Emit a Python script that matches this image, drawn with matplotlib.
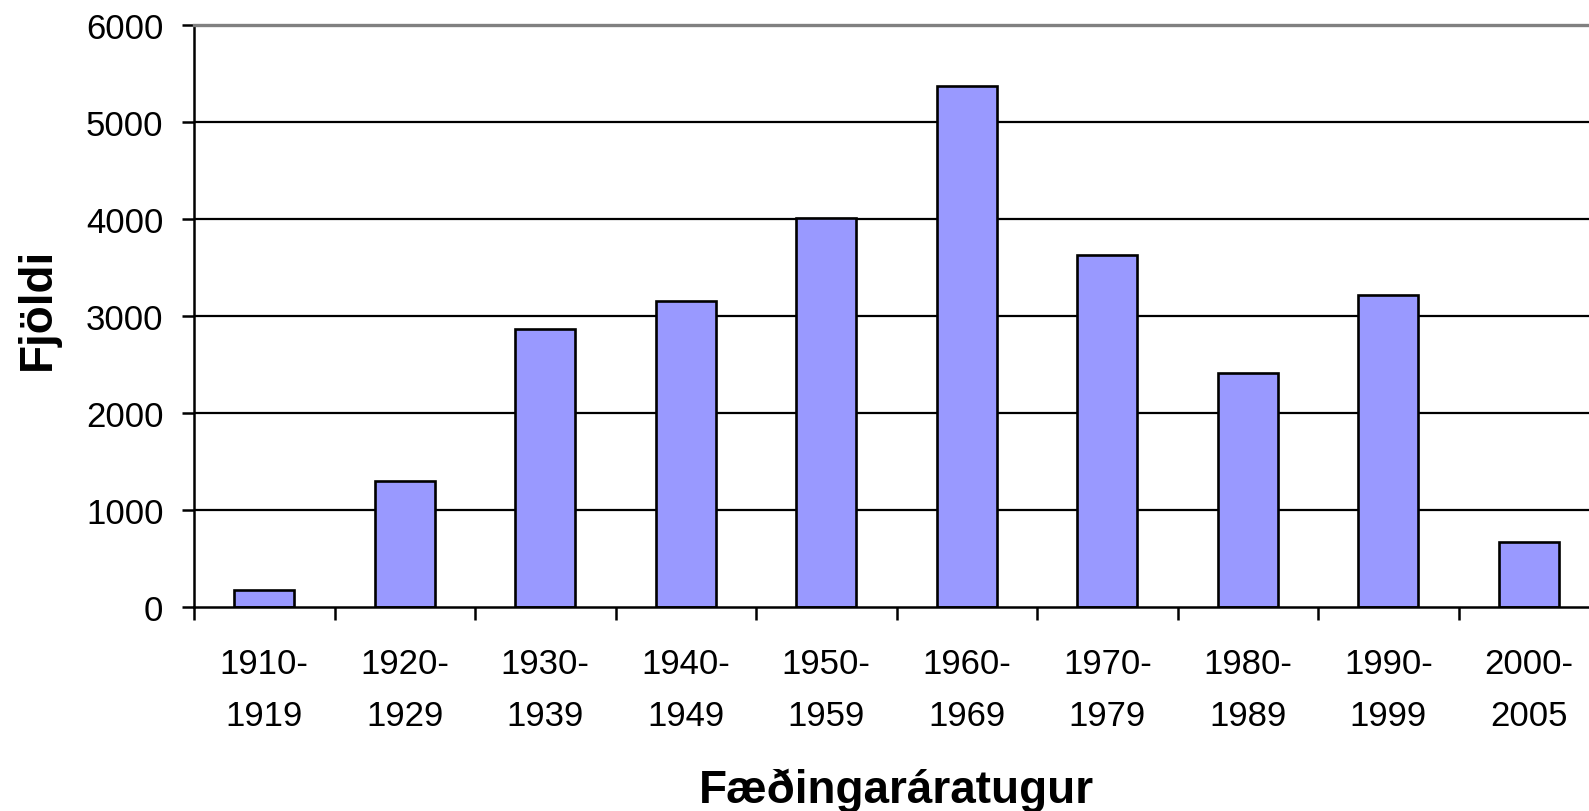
import numpy as np
import matplotlib
matplotlib.use("Agg")
import matplotlib.pyplot as plt

plt.rcParams["font.family"] = ["Liberation Sans", "DejaVu Sans"]

# Data
decades = ["1910-\n1919", "1920-\n1929", "1930-\n1939", "1940-\n1949", "1950-\n1959",
           "1960-\n1969", "1970-\n1979", "1980-\n1989", "1990-\n1999", "2000-\n2005"]
counts = [172, 1298, 2865, 3160, 4015, 5380, 3630, 2418, 3215, 672]
y_ticks = [0, 1000, 2000, 3000, 4000, 5000, 6000]

fig = plt.figure(figsize=(15.89, 8.12), dpi=100)
ax = fig.add_axes([0.1221, 0.2512, 0.8842, 0.7162])

x = np.arange(len(decades))
ax.bar(x, counts, width=0.43, color="#9999FF", edgecolor="black", linewidth=1.9, zorder=3)

ax.set_xlim(-0.5, len(decades) - 0.5)
ax.set_ylim(0, 6000)

# gridlines (black), top border gray
for v in y_ticks[1:-1]:
    ax.axhline(v, color="black", linewidth=1.6, zorder=1)
ax.spines["top"].set_color("#808080")
ax.spines["top"].set_linewidth(2.4)
ax.spines["right"].set_visible(False)
ax.spines["left"].set_linewidth(1.8)
ax.spines["bottom"].set_linewidth(1.8)
ax.spines["bottom"].set_zorder(4)

ax.set_yticks(y_ticks)
ax.tick_params(axis="y", labelsize=25, length=9, width=1.8, pad=13)

# major ticks at category boundaries, labels at centres
ax.set_xticks(np.arange(len(decades) + 1) - 0.5)
ax.set_xticklabels([])
ax.tick_params(axis="x", which="major", length=9, width=1.8, direction="out")
ax.set_xticks(x, minor=True)
ax.set_xticklabels(decades, minor=True, fontsize=25, linespacing=1.7)
ax.tick_params(axis="x", which="minor", length=0, pad=29)

ax.set_xlabel("Fæðingaráratugur", fontsize=33, fontweight="bold", labelpad=26)
ax.set_ylabel("Fjöldi", fontsize=33, fontweight="bold", labelpad=19)
ax.yaxis.label.set_y(0.515)

fig.savefig("out.png", dpi=100)
